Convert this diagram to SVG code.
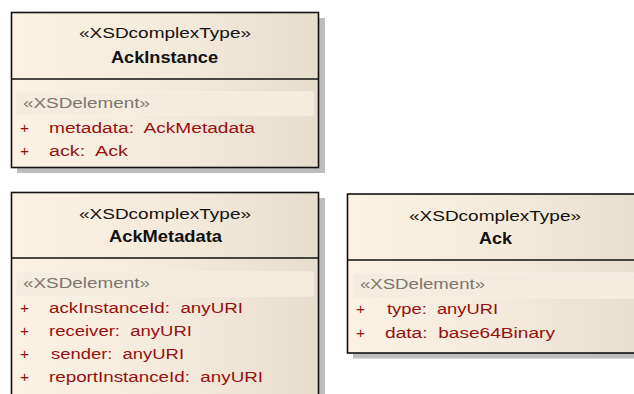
<svg xmlns="http://www.w3.org/2000/svg" width="634" height="394" viewBox="0 0 634 394">
  <defs>
    <linearGradient id="classFill" x1="0" y1="0" x2="1" y2="0">
      <stop offset="0" stop-color="#fcf2e3"/>
      <stop offset="0.55" stop-color="#f4eadb"/>
      <stop offset="1" stop-color="#e6ddcf"/>
    </linearGradient>
  </defs>
  <style>
    .shadow { fill: #bdbdbd; }
    .box { fill: url(#classFill); stroke: #111; stroke-width: 1.6; }
    .divider { stroke: #111; stroke-width: 1.6; }
    .band { fill: #f4ecdf; stroke: #f7f1e7; stroke-width: 1; }
    text { font-family: "Liberation Sans", Arial, sans-serif; white-space: pre; }
    .stereo { font-size: 15.5px; fill: #111; }
    .name { font-size: 16px; font-weight: bold; fill: #111; }
    .section { font-size: 14px; fill: #7c7670; }
    .attr { font-size: 15.5px; fill: #961010; }
    .plus { font-size: 15.5px; fill: #961010; }
  </style>

  <!-- AckInstance -->
  <g id="AckInstance">
    <rect class="shadow" x="17" y="18" width="308" height="155"/>
    <rect class="box" x="11.5" y="12.5" width="307" height="155"/>
    <line class="divider" x1="11.5" y1="79" x2="318.5" y2="79"/>
    <text class="stereo" x="79" y="38" textLength="172" lengthAdjust="spacingAndGlyphs">«XSDcomplexType»</text>
    <text class="name" x="111" y="63" textLength="107" lengthAdjust="spacingAndGlyphs">AckInstance</text>
    <rect class="band" x="16" y="92" width="297" height="23"/>
    <text class="section" x="23" y="108" textLength="127" lengthAdjust="spacingAndGlyphs">«XSDelement»</text>
    <text class="plus" x="20" y="133">+</text>
    <text class="attr" x="49" y="133" textLength="206" lengthAdjust="spacingAndGlyphs" xml:space="preserve">metadata:  AckMetadata</text>
    <text class="plus" x="20" y="156">+</text>
    <text class="attr" x="49" y="156" textLength="79" lengthAdjust="spacingAndGlyphs" xml:space="preserve">ack:  Ack</text>
  </g>

  <!-- AckMetadata -->
  <g id="AckMetadata">
    <rect class="shadow" x="17" y="198" width="308" height="220"/>
    <rect class="box" x="11.5" y="192.5" width="307" height="220"/>
    <line class="divider" x1="11.5" y1="258" x2="318.5" y2="258"/>
    <text class="stereo" x="79" y="219" textLength="172" lengthAdjust="spacingAndGlyphs">«XSDcomplexType»</text>
    <text class="name" x="109" y="242" textLength="113" lengthAdjust="spacingAndGlyphs">AckMetadata</text>
    <rect class="band" x="16" y="272" width="297" height="24"/>
    <text class="section" x="23" y="288" textLength="127" lengthAdjust="spacingAndGlyphs">«XSDelement»</text>
    <text class="plus" x="20" y="313">+</text>
    <text class="attr" x="49" y="313" textLength="194" lengthAdjust="spacingAndGlyphs" xml:space="preserve">ackInstanceId:  anyURI</text>
    <text class="plus" x="20" y="336">+</text>
    <text class="attr" x="49" y="336" textLength="143" lengthAdjust="spacingAndGlyphs" xml:space="preserve">receiver:  anyURI</text>
    <text class="plus" x="20" y="359">+</text>
    <text class="attr" x="51" y="359" textLength="133" lengthAdjust="spacingAndGlyphs" xml:space="preserve">sender:  anyURI</text>
    <text class="plus" x="20" y="382">+</text>
    <text class="attr" x="49" y="382" textLength="214" lengthAdjust="spacingAndGlyphs" xml:space="preserve">reportInstanceId:  anyURI</text>
  </g>

  <!-- Ack -->
  <g id="Ack">
    <rect class="shadow" x="353" y="199.5" width="300" height="159"/>
    <rect class="box" x="347.5" y="194" width="300" height="159"/>
    <line class="divider" x1="347.5" y1="260" x2="647.5" y2="260"/>
    <text class="stereo" x="409" y="221" textLength="172" lengthAdjust="spacingAndGlyphs">«XSDcomplexType»</text>
    <text class="name" x="479" y="244" textLength="33" lengthAdjust="spacingAndGlyphs">Ack</text>
    <rect class="band" x="353" y="273" width="290" height="25"/>
    <text class="section" x="360" y="289" textLength="125" lengthAdjust="spacingAndGlyphs">«XSDelement»</text>
    <text class="plus" x="356" y="314">+</text>
    <text class="attr" x="387" y="314" textLength="111" lengthAdjust="spacingAndGlyphs" xml:space="preserve">type:  anyURI</text>
    <text class="plus" x="356" y="338">+</text>
    <text class="attr" x="385" y="338" textLength="170" lengthAdjust="spacingAndGlyphs" xml:space="preserve">data:  base64Binary</text>
  </g>

  <!-- no connectors between these types -->
  <g id="connectors"/>
</svg>
